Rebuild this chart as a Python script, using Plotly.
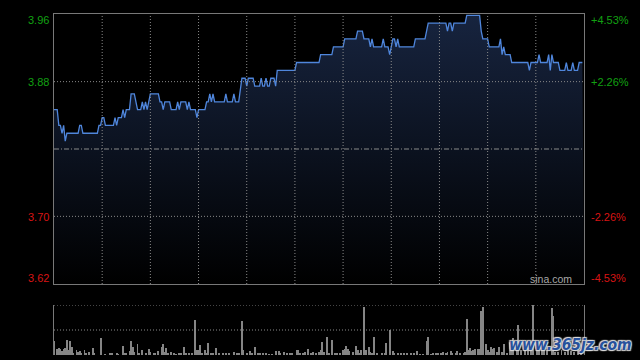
import plotly.graph_objects as go

# ---------------- data ----------------
prev_close = 3.79
pct_span = 0.0453

# intraday price: minute index (0..330, HK session 9:30-12:00, 13:00-16:00) and price
price_min = [0, 2, 3, 4, 5, 6, 7, 8, 15, 16, 17, 18, 27, 28, 29, 30, 31, 32, 37, 38, 39, 40, 42,
             43, 44, 45, 47, 48, 50, 51, 52, 54, 55, 56, 57, 58, 59, 60, 65, 66, 67, 68, 69, 72,
             73, 76, 77, 78, 79, 82, 83, 84, 85, 88, 89, 90, 94, 95, 96, 97, 98, 99, 100, 106,
             107, 108, 111, 112, 113, 115, 117, 119, 120, 121, 124, 125, 128, 129, 130, 131, 132,
             133, 134, 135, 137, 138, 139, 150, 151, 165, 166, 173, 174, 180, 181, 188, 189, 192,
             193, 196, 197, 198, 199, 204, 205, 206, 208, 209, 210, 211, 212, 213, 214, 215, 224,
             225, 231, 232, 233, 244, 245, 246, 247, 248, 249, 256, 257, 265, 266, 267, 270, 271,
             277, 278, 279, 280, 281, 284, 285, 295, 296, 297, 301, 302, 303, 307, 308, 309, 310,
             311, 314, 315, 318, 319, 320, 322, 323, 324, 326, 327, 329]
price_val = [3.84, 3.84, 3.82, 3.82, 3.81, 3.82, 3.80, 3.81, 3.81, 3.82, 3.82, 3.81, 3.81, 3.82,
             3.82, 3.83, 3.83, 3.82, 3.82, 3.83, 3.82, 3.83, 3.83, 3.84, 3.83, 3.84, 3.84, 3.86,
             3.86, 3.85, 3.84, 3.84, 3.85, 3.84, 3.85, 3.84, 3.85, 3.86, 3.86, 3.85, 3.85, 3.84,
             3.85, 3.85, 3.84, 3.84, 3.85, 3.84, 3.85, 3.85, 3.84, 3.85, 3.84, 3.84, 3.83, 3.84,
             3.84, 3.85, 3.85, 3.86, 3.85, 3.86, 3.85, 3.85, 3.86, 3.85, 3.85, 3.86, 3.85, 3.85,
             3.88, 3.88, 3.87, 3.88, 3.88, 3.87, 3.87, 3.88, 3.87, 3.87, 3.88, 3.87, 3.87, 3.88,
             3.88, 3.87, 3.89, 3.89, 3.90, 3.90, 3.91, 3.91, 3.92, 3.92, 3.93, 3.93, 3.94, 3.94,
             3.93, 3.93, 3.92, 3.93, 3.92, 3.92, 3.93, 3.92, 3.92, 3.91, 3.92, 3.93, 3.93, 3.92,
             3.93, 3.92, 3.92, 3.93, 3.93, 3.94, 3.95, 3.95, 3.94, 3.95, 3.95, 3.94, 3.95, 3.95,
             3.96, 3.96, 3.94, 3.93, 3.93, 3.92, 3.92, 3.93, 3.91, 3.92, 3.91, 3.91, 3.90, 3.90,
             3.89, 3.90, 3.90, 3.91, 3.90, 3.90, 3.91, 3.89, 3.91, 3.90, 3.90, 3.89, 3.89, 3.90,
             3.89, 3.89, 3.90, 3.89, 3.89, 3.90, 3.90]

# per-minute volume bars (thousand shares), minute index and value
vol_min = [0, 2, 3, 4, 5, 6, 7, 8, 9, 10, 11, 12, 14, 15, 16, 17, 19, 20, 22, 24, 25, 29, 32, 35,
           36, 39, 40, 43, 44, 45, 47, 48, 49, 50, 52, 53, 55, 57, 59, 60, 62, 63, 65, 67, 68, 69,
           70, 71, 73, 75, 76, 78, 79, 81, 82, 84, 86, 88, 89, 90, 91, 92, 94, 95, 96, 98, 99,
           101, 103, 105, 107, 109, 112, 114, 115, 117, 118, 120, 122, 123, 125, 127, 128, 130,
           132, 134, 136, 138, 140, 141, 143, 145, 147, 148, 151, 152, 153, 155, 156, 158, 160,
           161, 163, 165, 166, 167, 168, 170, 171, 173, 175, 176, 178, 180, 181, 182, 183, 184,
           186, 188, 189, 190, 191, 193, 194, 196, 197, 198, 199, 201, 204, 206, 207, 209, 211,
           212, 214, 216, 218, 220, 222, 224, 226, 228, 230, 232, 233, 235, 236, 238, 239, 241,
           242, 244, 245, 247, 248, 250, 251, 253, 255, 256, 257, 258, 259, 260, 261, 262, 264,
           265, 266, 267, 269, 270, 271, 272, 273, 274, 276, 277, 279, 280, 282, 284, 285, 286,
           288, 289, 291, 293, 295, 297, 298, 301, 302, 304, 305, 307, 310, 311, 312, 314, 316,
           318, 320, 322, 324, 326, 328]
vol_val = [42, 17, 20, 18, 13, 18, 20, 45, 15, 42, 25, 7, 15, 10, 12, 7, 15, 7, 10, 21, 4, 51, 3,
           4, 5, 7, 3, 27, 4, 7, 13, 42, 25, 10, 33, 4, 15, 7, 18, 8, 4, 7, 13, 25, 34, 10, 22, 4,
           10, 5, 3, 7, 7, 25, 4, 7, 5, 105, 15, 15, 30, 7, 15, 5, 37, 7, 5, 21, 5, 5, 7, 5, 9, 5,
           7, 102, 15, 5, 12, 4, 25, 4, 5, 7, 5, 3, 3, 12, 12, 4, 9, 7, 7, 5, 15, 15, 5, 4, 10, 17,
           7, 9, 7, 10, 15, 39, 10, 54, 5, 45, 5, 7, 7, 15, 17, 27, 18, 13, 10, 27, 15, 7, 15, 145,
           15, 25, 9, 4, 54, 5, 5, 5, 37, 75, 13, 5, 5, 5, 5, 5, 5, 7, 11, 3, 3, 41, 53, 3, 7, 5,
           7, 5, 10, 5, 10, 13, 5, 7, 13, 5, 5, 8, 108, 15, 20, 13, 15, 17, 18, 18, 132, 145, 33,
           15, 10, 25, 17, 20, 10, 25, 10, 32, 7, 35, 15, 50, 15, 90, 15, 20, 20, 15, 151, 20, 15,
           15, 20, 15, 140, 118, 10, 10, 15, 10, 15, 12, 10, 15, 10]

left_labels = ["3.96", "3.88", "3.70", "3.62"]
right_labels = ["+4.53%", "+2.26%", "-2.26%", "-4.53%"]
label_colors = ["#12a012", "#12a012", "#d81414", "#d81414"]

# ---------------- figure ----------------
W, H = 640, 360
X0, X1 = 54, 584
MAIN_T, MAIN_B = 14, 284
VOL_T, VOL_B = 305, 355

y_lo = prev_close * (1 - pct_span)
y_hi = prev_close * (1 + pct_span)

grid_col = "#8a8a8a"
border_col = "#787878"
dot = "1px,2px"

fig = go.Figure()

fig.add_trace(go.Scatter(x=[0, 330], y=[y_lo, y_lo], mode="lines",
                         line=dict(width=0, color="rgba(0,0,0,0)"),
                         hoverinfo="skip", showlegend=False))
fig.add_trace(go.Scatter(
    x=price_min, y=price_val, mode="lines",
    line=dict(color="#4f86dc", width=1.3),
    fill="tonexty",
    fillgradient=dict(type="vertical",
                      colorscale=[[0, "#000000"], [1, "#17243f"]],
                      start=y_lo, stop=y_hi),
    showlegend=False))

fig.add_trace(go.Bar(x=vol_min, y=vol_val, width=0.6,
                     marker=dict(color="#858585", line=dict(width=0)),
                     xaxis="x2", yaxis="y2", showlegend=False))

dom_x = [X0 / W, X1 / W]
fig.update_layout(
    width=W, height=H,
    margin=dict(l=0, r=0, t=0, b=0),
    paper_bgcolor="#000000", plot_bgcolor="#000000",
    bargap=0,
    xaxis=dict(domain=dom_x, range=[0, 330],
               showgrid=False, showticklabels=False, zeroline=False, ticks="",
               showline=True, mirror=True, linecolor=border_col, linewidth=1),
    yaxis=dict(domain=[1 - MAIN_B / H, 1 - MAIN_T / H], range=[y_lo, y_hi],
               showgrid=False, showticklabels=False, zeroline=False, ticks="",
               showline=True, mirror=True, linecolor=border_col, linewidth=1),
    xaxis2=dict(domain=dom_x, range=[0, 330], anchor="y2",
                showgrid=False, showticklabels=False, zeroline=False, showline=False),
    yaxis2=dict(domain=[1 - VOL_B / H, 1 - VOL_T / H], range=[0, 150], anchor="x2",
                showgrid=False, showticklabels=False, zeroline=False, ticks="",
                showline=True, mirror=True, linecolor=border_col, linewidth=1),
)

# grid lines drawn above the fill (as in the reference)
for m in range(30, 330, 30):
    fig.add_shape(type="line", xref="x", yref="y domain", x0=m, x1=m, y0=0, y1=1,
                  line=dict(color=grid_col, width=1, dash=dot), layer="above")
for f in (1.0226, 0.9774):
    fig.add_shape(type="line", xref="x domain", yref="y", x0=0, x1=1,
                  y0=prev_close * f, y1=prev_close * f,
                  line=dict(color=grid_col, width=1, dash=dot), layer="above")
# previous close dash-dot line and volume panel guide lines
fig.add_shape(type="line", xref="x domain", yref="y", x0=0, x1=1, y0=prev_close, y1=prev_close,
              line=dict(color=grid_col, width=1, dash="5px,2px,1px,2px"))
for v in (150, 75):
    fig.add_shape(type="line", xref="x2 domain", yref="y2", x0=0, x1=1, y0=v, y1=v,
                  line=dict(color=grid_col, width=1, dash=dot))

font_fam = "Liberation Sans, Arial, sans-serif"
label_y = [20, 82, 216.5, 278]
for txt_l, txt_r, col, yy in zip(left_labels, right_labels, label_colors, label_y):
    fig.add_annotation(text=txt_l, xref="paper", yref="paper", x=51 / W, y=1 - yy / H,
                       xanchor="right", yanchor="middle", showarrow=False,
                       font=dict(family=font_fam, size=11, color=col))
    fig.add_annotation(text=txt_r, xref="paper", yref="paper", x=589 / W, y=1 - yy / H,
                       xanchor="left", yanchor="middle", showarrow=False,
                       font=dict(family=font_fam, size=11, color=col))

fig.add_annotation(text="sina.com", xref="paper", yref="paper", x=574 / W, y=1 - 279 / H,
                   xanchor="right", yanchor="middle", showarrow=False,
                   font=dict(family=font_fam, size=10.5, color="#a8a8a8"))

fig.add_annotation(text="<b><i>www.365jz.com</i></b>", xref="paper", yref="paper",
                   x=634 / W, y=1 - 345 / H, xanchor="right", yanchor="middle", showarrow=False,
                   font=dict(family="Liberation Sans Narrow, DejaVu Sans Condensed, Arial, sans-serif",
                             size=15.5, color="#27519c",
                             shadow="1px 1px 1px #dddddd, -1px -1px 1px #dddddd, 1px -1px 1px #dddddd, -1px 1px 1px #dddddd"))

fig.write_html("out.html")
